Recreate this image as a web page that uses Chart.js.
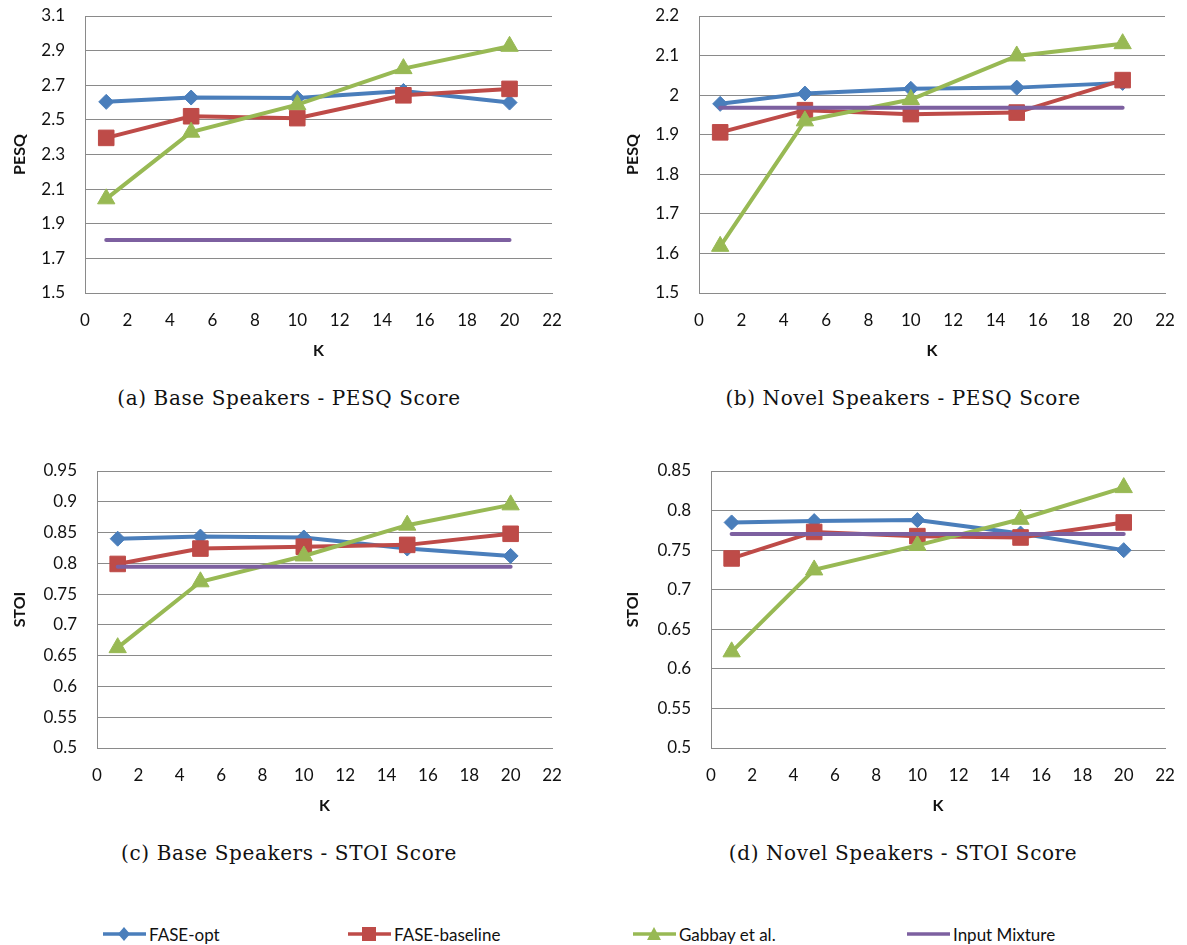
<!DOCTYPE html>
<html><head><meta charset="utf-8">
<script src="https://cdn.jsdelivr.net/npm/chart.js@4.4.1/dist/chart.umd.min.js"></script>
<style>
body{margin:0;background:#fff;width:1187px;height:945px;position:relative;overflow:hidden;}
.box{position:absolute;}
.cap{position:absolute;font-family:"DejaVu Serif";font-size:20px;letter-spacing:0.6px;transform:translate(-50%,-50%);white-space:nowrap;color:#111;}
.leg{position:absolute;top:924px;height:20px;display:flex;align-items:center;font-family:Lato;font-size:17px;color:#111;white-space:nowrap;}
.leg svg{margin-right:2px;}
</style></head>
<body>
<div class="box" style="left:0;top:0"><canvas id="cA" width="564" height="370"></canvas></div>
<div class="box" style="left:613px;top:0"><canvas id="cB" width="564" height="370"></canvas></div>
<div class="box" style="left:0;top:455px"><canvas id="cC" width="564" height="370"></canvas></div>
<div class="box" style="left:613px;top:455px"><canvas id="cD" width="564" height="370"></canvas></div>
<div class="cap" style="left:289px;top:398px">(a) Base Speakers - PESQ Score</div>
<div class="cap" style="left:903px;top:398px">(b) Novel Speakers - PESQ Score</div>
<div class="cap" style="left:289px;top:853px">(c) Base Speakers - STOI Score</div>
<div class="cap" style="left:903px;top:853px">(d) Novel Speakers - STOI Score</div>
<div id="legend"></div>
<script>
// ---- data ----
const kValues = [1, 5, 10, 15, 20];
const xTicks = [0, 2, 4, 6, 8, 10, 12, 14, 16, 18, 20, 22];
const seriesNames = ['FASE-opt', 'FASE-baseline', 'Gabbay et al.', 'Input Mixture'];

// (a) Base Speakers - PESQ
const pesqBaseOpt      = [2.604, 2.629, 2.627, 2.667, 2.600];
const pesqBaseBaseline = [2.396, 2.521, 2.510, 2.642, 2.679];
const pesqBaseGabbay   = [2.044, 2.429, 2.588, 2.796, 2.925];
const pesqBaseMixture  = [1.806, 1.806, 1.806, 1.806, 1.806];
const pesqBaseTicks    = ['1.5', '1.7', '1.9', '2.1', '2.3', '2.5', '2.7', '2.9', '3.1'];

// (b) Novel Speakers - PESQ
const pesqNovelOpt      = [1.978, 2.004, 2.016, 2.019, 2.031];
const pesqNovelBaseline = [1.906, 1.962, 1.952, 1.956, 2.038];
const pesqNovelGabbay   = [1.618, 1.935, 1.989, 2.099, 2.130];
const pesqNovelMixture  = [1.968, 1.968, 1.968, 1.968, 1.968];
const pesqNovelTicks    = ['1.5', '1.6', '1.7', '1.8', '1.9', '2', '2.1', '2.2'];

// (c) Base Speakers - STOI
const stoiBaseOpt      = [0.840, 0.8435, 0.842, 0.824, 0.812];
const stoiBaseBaseline = [0.799, 0.824, 0.827, 0.830, 0.848];
const stoiBaseGabbay   = [0.663, 0.770, 0.812, 0.862, 0.895];
const stoiBaseMixture  = [0.7946, 0.7946, 0.7946, 0.7946, 0.7946];
const stoiBaseTicks    = ['0.5', '0.55', '0.6', '0.65', '0.7', '0.75', '0.8', '0.85', '0.9', '0.95'];

// (d) Novel Speakers - STOI
const stoiNovelOpt      = [0.785, 0.7867, 0.788, 0.771, 0.750];
const stoiNovelBaseline = [0.7395, 0.773, 0.7677, 0.766, 0.785];
const stoiNovelGabbay   = [0.6215, 0.725, 0.756, 0.789, 0.829];
const stoiNovelMixture  = [0.7705, 0.7705, 0.7705, 0.7705, 0.7705];
const stoiNovelTicks    = ['0.5', '0.55', '0.6', '0.65', '0.7', '0.75', '0.8', '0.85'];

// ---- style ----
const COLORS = ['#4A7EBB', '#BE4B48', '#98B954', '#7D60A0'];
const STYLES = ['rectRot', 'rect', 'triangle', false];
const RADII  = [7.5, 11, 10, 0];
const GRID = '#8A8A8A';
const TICK_FONT = {family: 'Lato', size: 17};
const TITLE_FONT = {family: 'Lato', size: 16, weight: 'bold'};

function pts(arr) { return kValues.map((k, i) => ({x: k, y: arr[i]})); }
function zeroPad(s) { s.paddingTop = 0; s.paddingBottom = 0; s.paddingLeft = 0; s.paddingRight = 0; }

function makeChart(id, series, tickLabels, yTitle, yAxisWidth) {
  const tickVals = tickLabels.map(Number);
  const datasets = series.map((arr, i) => ({
    label: seriesNames[i],
    data: pts(arr),
    borderColor: COLORS[i],
    backgroundColor: COLORS[i],
    borderWidth: 4,
    pointStyle: STYLES[i] || 'circle',
    pointRadius: RADII[i],
    pointHoverRadius: RADII[i],
    pointBorderWidth: 1,
    pointBorderColor: COLORS[i],
    pointBackgroundColor: COLORS[i],
    tension: 0,
    order: 4 - i,
    borderCapStyle: 'round'
  }));
  new Chart(document.getElementById(id), {
    type: 'line',
    data: {datasets},
    options: {
      responsive: false,
      animation: false,
      layout: {padding: {top: 16, right: 12, left: 0, bottom: 0}},
      plugins: {legend: {display: false}, tooltip: {enabled: false}},
      scales: {
        x: {
          type: 'linear', min: 0, max: 22,
          afterBuildTicks: s => { s.ticks = xTicks.map(v => ({value: v})); },
          afterFit: s => { s.height = 77; zeroPad(s); },
          grid: {display: false, drawTicks: false},
          border: {display: true, color: GRID, width: 1},
          ticks: {font: TICK_FONT, color: '#111', padding: 17, autoSkip: false, maxRotation: 0,
                  callback: v => String(v)},
          title: {display: true, text: 'K', font: TITLE_FONT, color: '#111', padding: {top: 0, bottom: 10}}
        },
        y: {
          type: 'linear', min: tickVals[0], max: tickVals[tickVals.length - 1],
          afterBuildTicks: s => { s.ticks = tickVals.map(v => ({value: v})); },
          afterFit: s => { s.width = yAxisWidth; zeroPad(s); },
          grid: {color: GRID, lineWidth: 1, drawTicks: false},
          border: {display: true, color: GRID, width: 1},
          ticks: {font: TICK_FONT, color: '#111', padding: 20, autoSkip: false,
                  callback: (v, i) => tickLabels[i]},
          title: {display: true, text: yTitle, font: TITLE_FONT, color: '#111', padding: {top: 10, bottom: 0}}
        }
      }
    }
  });
}

makeChart('cA', [pesqBaseOpt, pesqBaseBaseline, pesqBaseGabbay, pesqBaseMixture], pesqBaseTicks, 'PESQ', 85);
makeChart('cB', [pesqNovelOpt, pesqNovelBaseline, pesqNovelGabbay, pesqNovelMixture], pesqNovelTicks, 'PESQ', 86);
makeChart('cC', [stoiBaseOpt, stoiBaseBaseline, stoiBaseGabbay, stoiBaseMixture], stoiBaseTicks, 'STOI', 97);
makeChart('cD', [stoiNovelOpt, stoiNovelBaseline, stoiNovelGabbay, stoiNovelMixture], stoiNovelTicks, 'STOI', 98);

// ---- shared legend ----
const legendLeft = [102, 347, 632, 906];
function markerSvg(i) {
  const c = COLORS[i];
  let m = '';
  if (i === 0) m = `<polygon points="22,3 28,10 22,17 16,10" fill="${c}"/>`;
  if (i === 1) m = `<rect x="15" y="3" width="14" height="14" fill="${c}"/>`;
  if (i === 2) m = `<polygon points="22,3 29,16 15,16" fill="${c}"/>`;
  return `<svg width="45" height="20"><line x1="1" y1="10" x2="44" y2="10" stroke="${c}" stroke-width="3.5"/>${m}</svg>`;
}
const legEl = document.getElementById('legend');
seriesNames.forEach((n, i) => {
  const d = document.createElement('div');
  d.className = 'leg';
  d.style.left = legendLeft[i] + 'px';
  d.innerHTML = markerSvg(i) + '<span>' + n + '</span>';
  legEl.appendChild(d);
});
</script>
</body></html>
